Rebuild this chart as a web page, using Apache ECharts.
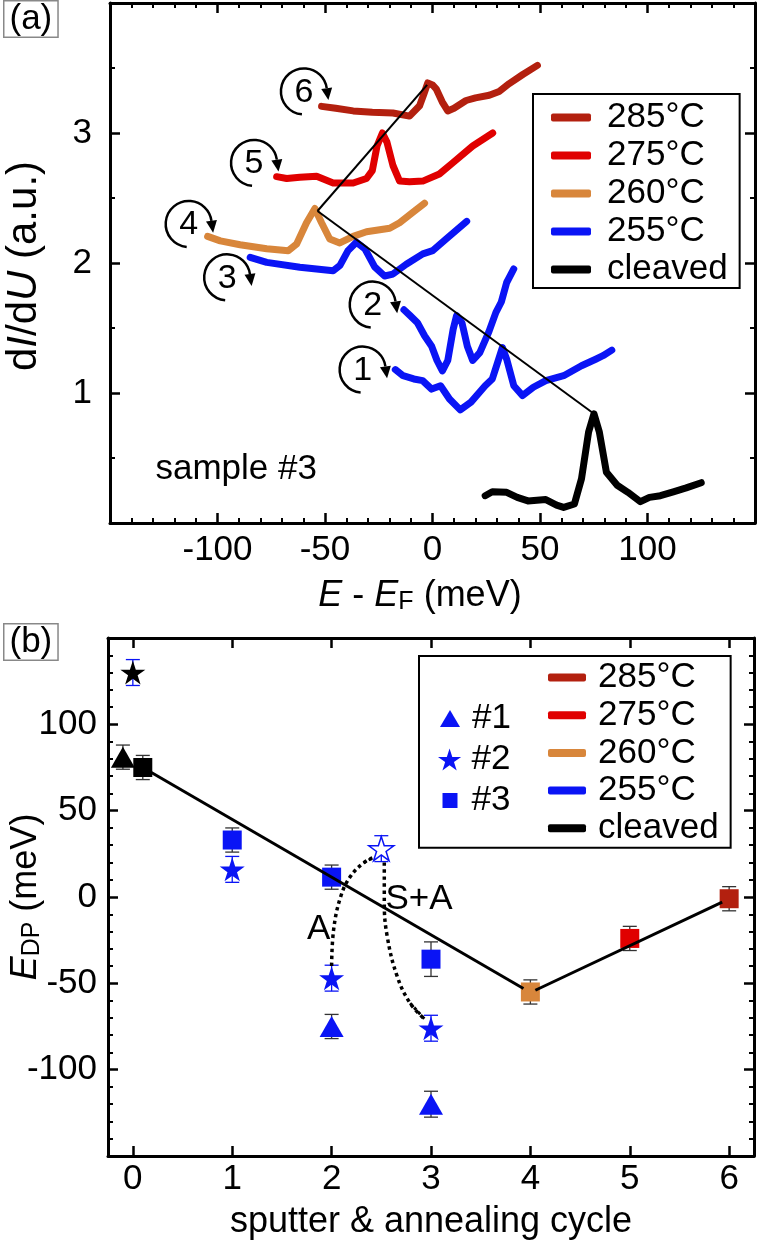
<!DOCTYPE html>
<html lang="en">
<head>
<meta charset="UTF-8">
<title>Dirac point shift with sputter and annealing</title>
<style>
  html, body { margin: 0; padding: 0; background: #fff; }
  #chart { width: 760px; height: 1246px; }
</style>
</head>
<body>
<div id="chart"></div>
<script src="https://cdn.jsdelivr.net/npm/echarts@6/dist/echarts.min.js"></script>
<script>
  // ---- panel (a): dI/dU spectra, energy in meV ----
  const c6E = [-51.6, -45, -36.9, -28, -18.4, -10.7, -6.0, -4, -2.2, 0, 1.7, 4.5, 7.1, 10, 15.6, 20, 26.4, 31, 35.7, 42, 48.8];
  const c6V = [3.205, 3.19, 3.17, 3.16, 3.154, 3.13, 3.21, 3.3, 3.385, 3.37, 3.34, 3.24, 3.17, 3.19, 3.25, 3.27, 3.29, 3.32, 3.38, 3.45, 3.52];
  const c5E = [-72.5, -67.8, -61.7, -53.9, -46.2, -36.9, -30.7, -28.0, -25.8, -23.3, -21.2, -18.4, -15.3, -10.7, -4.5, 3.2, 9.4, 18.7, 28.0];
  const c5V = [2.664, 2.65, 2.66, 2.667, 2.615, 2.615, 2.65, 2.71, 2.90, 3.0, 2.93, 2.75, 2.63, 2.625, 2.63, 2.685, 2.77, 2.90, 3.0];
  const c4E = [-104.6, -98.7, -89.5, -77.1, -67.1, -63.2, -58.6, -54.7, -51.6, -47.8, -43.1, -36.9, -30.7, -19.9, -15.3, -9.1, -3.7];
  const c4V = [2.205, 2.17, 2.14, 2.11, 2.095, 2.146, 2.31, 2.42, 2.31, 2.185, 2.154, 2.205, 2.24, 2.267, 2.31, 2.39, 2.46];
  const c3E = [-84.8, -77.1, -61.7, -46.2, -43.1, -39.3, -35.4, -31.5, -26.9, -22.3, -18.4, -12.2, -4.5, 0.1, 6.4, 15.9];
  const c3V = [2.044, 2.005, 1.967, 1.94, 1.98, 2.095, 2.16, 2.11, 1.97, 1.90, 1.915, 1.99, 2.07, 2.095, 2.185, 2.32];
  const c2E = [-13.3, -10.4, -7.0, -3.7, -0.4, 2.1, 4.6, 7.1, 9.6, 11.2, 13.7, 16.2, 18.7, 22.0, 26.2, 29.5, 32.0, 34.5, 37.8];
  const c2V = [1.64, 1.595, 1.54, 1.44, 1.36, 1.25, 1.17, 1.25, 1.49, 1.595, 1.54, 1.36, 1.25, 1.31, 1.47, 1.62, 1.70, 1.85, 1.954];
  const c1E = [-17.3, -13.7, -8.7, -4.6, -0.4, 3.75, 7.9, 12.9, 17.9, 24.5, 27.8, 30.3, 32.5, 34.5, 37.8, 41.9, 46.9, 52.7, 61.0, 69.3, 75.9, 79.3, 83.4];
  const c1V = [1.18, 1.133, 1.108, 1.095, 1.03, 1.056, 0.954, 0.87, 0.93, 1.056, 1.108, 1.236, 1.35, 1.26, 1.056, 0.98, 1.044, 1.095, 1.133, 1.21, 1.26, 1.287, 1.33];
  const c0E = [24.5, 27.8, 34.5, 39.4, 44.4, 52.7, 57.7, 61.0, 66.0, 69.3, 72.6, 75.1, 77.6, 80.9, 85.9, 90.9, 96.7, 100.9, 106, 112, 118, 125];
  const c0V = [0.21, 0.24, 0.236, 0.197, 0.17, 0.18, 0.138, 0.12, 0.146, 0.34, 0.70, 0.84, 0.70, 0.39, 0.29, 0.236, 0.164, 0.197, 0.21, 0.24, 0.27, 0.31];

  // Dirac point positions joined by arrows
  const dpE = [75.1, -53.5, -2.5];
  const dpV = [0.84, 2.40, 3.37];

  // circled cycle numbers
  const cycN = [1, 2, 3, 4, 5, 6];
  const cycE = [-32.5, -27.8, -95.5, -113.4, -83.0, -59.8];
  const cycV = [1.18, 1.68, 1.89, 2.30, 2.77, 3.32];

  // ---- panel (b): E_DP vs cycle ----
  const s1X = [-0.1, 2, 3];
  const s1Y = [81, -75, -120];
  const s1Err = [7, 7, 7.5];
  const s1T = ['cleaved', '255', '255'];
  const s2X = [0, 1, 2, 3];
  const s2Y = [130, 16, -47, -76];
  const s2Err = [7.5, 7.5, 7.5, 7.5];
  const s2T = ['cleaved', '255', '255', '255'];
  const s2OpenX = [2.5];
  const s2OpenY = [28];
  const s2OpenErr = [7.5];
  const s3X = [0.1, 1, 2, 3, 4, 5, 6];
  const s3Y = [75, 33, 11.5, -36, -55, -24, -1];
  const s3Err = [7, 7, 7, 10, 7, 7, 7];
  const s3T = ['cleaved', '255', '255', '255', '260', '275', '285'];

  const trendX = [0.1, 3.93, 4.05, 5.93];
  const trendY = [75, -53, -54, -3];
  const annX = [2.0, 2.02, 2.09, 2.19, 2.32, 2.41];
  const annY = [-40, -19, 0, 12, 19.7, 22.6];
  const spaX = [2.53, 2.53, 2.56, 2.66, 2.79, 2.94];
  const spaY = [20, -3.5, -23, -46, -61.5, -71];

  const xTicksB = [0, 1, 2, 3, 4, 5, 6];

  const col = {
    '285': '#b3200f',
    '275': '#e00000',
    '260': '#d8863b',
    '255': '#0a14f5',
    'cleaved': '#000000'
  };
  const FONT = '"Liberation Sans", Arial, sans-serif';
  const FS = 35;
  const STAR = 'path://M50,0 L61.23,34.55 L97.55,34.55 L68.16,55.9 L79.39,90.45 L50,69.1 L20.61,90.45 L31.84,55.9 L2.45,34.55 L38.77,34.55 Z';

  const zip = (a, b) => a.map((v, i) => [v, b[i]]);

  function spectrum(name, E, V, color) {
    return {
      name: name, type: 'line', xAxisIndex: 0, yAxisIndex: 0,
      data: zip(E, V), showSymbol: false, symbol: 'none', silent: true,
      color: color,
      lineStyle: { width: 7, color: color, cap: 'round', join: 'round' }
    };
  }

  function renderCycle(params, api) {
    const p = api.coord([api.value(0), api.value(1)]);
    const r = 23;
    const a1 = 95 * Math.PI / 180, a2 = 352 * Math.PI / 180;
    const ex = p[0] + r * Math.cos(a2), ey = p[1] + r * Math.sin(a2);
    const tx = -Math.sin(a2), ty = Math.cos(a2);
    const nx = -ty, ny = tx;
    return {
      type: 'group',
      children: [
        { type: 'arc', shape: { cx: p[0], cy: p[1], r: r, startAngle: a1, endAngle: a2, clockwise: true },
          style: { stroke: '#000', lineWidth: 2.5, fill: null } },
        { type: 'polygon', shape: { points: [[ex + tx * 12, ey + ty * 12], [ex + nx * 5.5, ey + ny * 5.5], [ex - nx * 5.5, ey - ny * 5.5]] },
          style: { fill: '#000' } },
        { type: 'text', x: p[0], y: p[1] + 1,
          style: { text: String(api.value(2)), font: '34px ' + FONT, fill: '#000', align: 'center', verticalAlign: 'middle' } }
      ]
    };
  }

  function renderErr(params, api) {
    const x = api.value(0), y = api.value(1), e = api.value(2);
    const t = api.coord([x, y + e]), b = api.coord([x, y - e]);
    const w = 7;
    const st = { stroke: api.visual('color'), lineWidth: 1.3 };
    return {
      type: 'group',
      children: [
        { type: 'line', shape: { x1: t[0], y1: t[1], x2: b[0], y2: b[1] }, style: st },
        { type: 'line', shape: { x1: t[0] - w, y1: t[1], x2: t[0] + w, y2: t[1] }, style: st },
        { type: 'line', shape: { x1: b[0] - w, y1: b[1], x2: b[0] + w, y2: b[1] }, style: st }
      ]
    };
  }

  function pts(X, Y, T) {
    return X.map((x, i) => ({ value: [x, Y[i]], itemStyle: { color: col[T[i]] } }));
  }
  function errs(X, Y, E) {
    return X.map((x, i) => [x, Y[i], E[i]]);
  }

  const axLine = { show: true, onZero: false, lineStyle: { color: '#000', width: 3 } };
  const tick = { show: true, inside: true, length: 10, lineStyle: { color: '#000', width: 2.5 } };
  function xAx(grid, pos, extra) {
    return Object.assign({
      type: 'value', gridIndex: grid, position: pos,
      axisLine: axLine, axisTick: tick,
      splitLine: { show: false },
      axisLabel: { show: pos === 'bottom', color: '#000', fontSize: FS, fontFamily: FONT, margin: 10,
                   showMinLabel: false, showMaxLabel: false }
    }, extra);
  }
  function yAx(grid, pos, extra) {
    return Object.assign({
      type: 'value', gridIndex: grid, position: pos,
      axisLine: axLine, axisTick: tick,
      splitLine: { show: false },
      axisLabel: { show: pos === 'left', color: '#000', fontSize: FS, fontFamily: FONT, margin: 18,
                   showMinLabel: false, showMaxLabel: false }
    }, extra);
  }
  const minorE = { show: true, splitNumber: 5, length: 5, lineStyle: { color: '#000', width: 2 } };
  const minorV = { show: true, splitNumber: 2, length: 5, lineStyle: { color: '#000', width: 2 } };
  const tickB = Object.assign({}, tick, { customValues: xTicksB });

  const arrowMark = (from, to, extra) => Object.assign({
    silent: true, symbol: ['none', 'arrow'], symbolSize: [0, 14],
    label: { show: false },
    lineStyle: { color: '#000', width: 2, type: 'solid' },
    data: [[{ coord: from }, { coord: to }]]
  }, extra);

  const legText = (pad) => ({ fontSize: FS, color: '#000', padding: [0, 0, 0, pad] });

  const chart = echarts.init(document.getElementById('chart'));
  chart.setOption({
    animation: false,
    textStyle: { fontFamily: FONT },
    grid: [
      { left: 110, top: 3, width: 645, height: 520 },
      { left: 108, top: 638, width: 646, height: 518 }
    ],
    xAxis: [
      xAx(0, 'bottom', { min: -150, max: 150, interval: 50, minorTick: minorE }),
      xAx(0, 'top', { min: -150, max: 150, interval: 50, minorTick: minorE }),
      xAx(1, 'bottom', { min: -0.25, max: 6.25, axisTick: tickB,
        axisLabel: { show: true, color: '#000', fontSize: FS, fontFamily: FONT, margin: 6, customValues: xTicksB } }),
      xAx(1, 'top', { min: -0.25, max: 6.25, axisTick: tickB })
    ],
    yAxis: [
      yAx(0, 'left', { min: 0, max: 4, interval: 1, minorTick: minorV }),
      yAx(0, 'right', { min: 0, max: 4, interval: 1, minorTick: minorV }),
      yAx(1, 'left', { min: -150, max: 150, interval: 50, minorTick: minorE,
        axisLabel: { show: true, color: '#000', fontSize: FS, fontFamily: FONT, margin: 11, showMinLabel: false, showMaxLabel: false } }),
      yAx(1, 'right', { min: -150, max: 150, interval: 50, minorTick: minorE })
    ],
    legend: [
      {
        left: 533, top: 94, orient: 'vertical', itemWidth: 40, itemHeight: 8, itemGap: 3,
        padding: [6, 12, 1, 18], borderColor: '#000', borderWidth: 2, backgroundColor: '#fff',
        selectedMode: false, icon: 'roundRect', textStyle: legText(11),
        data: ['285°C', '275°C', '260°C', '255°C', 'cleaved']
      },
      {
        left: 419, top: 656, orient: 'vertical', itemWidth: 38, itemHeight: 8, itemGap: 2.7,
        padding: [4, 12, 2, 129], borderColor: '#000', borderWidth: 2,
        selectedMode: false, icon: 'roundRect', textStyle: legText(7),
        data: ['285°C', '275°C', '260°C', '255°C', 'cleaved']
      },
      {
        left: 440, top: 701, orient: 'vertical', itemWidth: 20, itemHeight: 17, padding: 0,
        selectedMode: false, textStyle: legText(7),
        data: [{ name: '#1', icon: 'triangle' }]
      },
      {
        left: 438, top: 742, orient: 'vertical', itemWidth: 24, itemHeight: 22, padding: 0,
        selectedMode: false, textStyle: legText(5),
        data: [{ name: '#2', icon: STAR }]
      },
      {
        left: 442.5, top: 783, orient: 'vertical', itemWidth: 15, itemHeight: 15, padding: 0,
        selectedMode: false, textStyle: legText(9),
        data: [{ name: '#3', icon: 'rect' }]
      }
    ],
    graphic: [
      { type: 'text', left: 3, top: 0, z: 100,
        style: { text: '(a)', font: FS + 'px ' + FONT, fill: '#000', backgroundColor: '#fff',
                 borderColor: '#888', borderWidth: 1.5, padding: [0, 5, 0, 5] } },
      { type: 'text', left: 3, top: 623, z: 100,
        style: { text: '(b)', font: FS + 'px ' + FONT, fill: '#000', backgroundColor: '#fff',
                 borderColor: '#888', borderWidth: 1.5, padding: [0, 5, 0, 5] } },
      { type: 'text', x: 24, y: 266, rotation: Math.PI / 2,
        style: { text: '{n|d}{i|I}{n|/d}{i|U}{n| (a.u.)}', align: 'center', verticalAlign: 'middle',
                 rich: { n: { font: '42px ' + FONT, fill: '#000' }, i: { font: 'italic 42px ' + FONT, fill: '#000' } } } },
      { type: 'text', x: 420, y: 596,
        style: { text: '{i|E}{n| - }{i|E}{s|F}{n| (meV)}', align: 'center', verticalAlign: 'middle',
                 rich: { n: { font: '36px ' + FONT, fill: '#000', lineHeight: 38 },
                         i: { font: 'italic 36px ' + FONT, fill: '#000', lineHeight: 38 },
                         s: { font: '25px ' + FONT, fill: '#000', lineHeight: 16, verticalAlign: 'bottom' } } } },
      { type: 'text', x: 26, y: 897, rotation: Math.PI / 2,
        style: { text: '{i|E}{s|DP}{n| (meV)}', align: 'center', verticalAlign: 'middle',
                 rich: { n: { font: '36px ' + FONT, fill: '#000', lineHeight: 38 },
                         i: { font: 'italic 36px ' + FONT, fill: '#000', lineHeight: 38 },
                         s: { font: '25px ' + FONT, fill: '#000', lineHeight: 16, verticalAlign: 'bottom' } } } },
      { type: 'text', x: 431, y: 1222,
        style: { text: 'sputter & annealing cycle', font: '36px ' + FONT, fill: '#000', align: 'center', verticalAlign: 'middle' } }
    ],
    series: [
      spectrum('285°C', c6E, c6V, col['285']),
      spectrum('275°C', c5E, c5V, col['275']),
      spectrum('260°C', c4E, c4V, col['260']),
      spectrum('255°C', c3E, c3V, col['255']),
      spectrum('255°C', c2E, c2V, col['255']),
      spectrum('255°C', c1E, c1V, col['255']),
      Object.assign(spectrum('cleaved', c0E, c0V, col['cleaved']), {
        markLine: {
          silent: true, symbol: ['none', 'arrow'], symbolSize: [0, 14], label: { show: false },
          lineStyle: { color: '#000', width: 2, type: 'solid' },
          data: [
            [{ coord: [dpE[0], dpV[0]] }, { coord: [dpE[1], dpV[1]] }],
            [{ coord: [dpE[1], dpV[1]] }, { coord: [dpE[2], dpV[2]] }]
          ]
        }
      }),
      {
        name: 'cycles', type: 'custom', xAxisIndex: 0, yAxisIndex: 0, silent: true, z: 5,
        renderItem: renderCycle,
        data: cycE.map((e, i) => [e, cycV[i], cycN[i]])
      },
      {
        name: 'note-a', type: 'scatter', xAxisIndex: 0, yAxisIndex: 0, symbolSize: 0, silent: true,
        itemStyle: { opacity: 1 },
        label: { show: true, position: 'inside', formatter: '{b}', fontSize: FS, color: '#000' },
        data: [{ name: 'sample #3', value: [-91.3, 0.415] }]
      },
      // panel (b)
      {
        name: 'err-dark', type: 'custom', xAxisIndex: 2, yAxisIndex: 2, silent: true, z: 1,
        itemStyle: { color: '#333' }, renderItem: renderErr,
        data: errs(s1X, s1Y, s1Err).concat(errs(s3X, s3Y, s3Err))
      },
      {
        name: 'err-blue', type: 'custom', xAxisIndex: 2, yAxisIndex: 2, silent: true, z: 1,
        itemStyle: { color: col['255'] }, renderItem: renderErr,
        data: errs(s2X, s2Y, s2Err).concat(errs(s2OpenX, s2OpenY, s2OpenErr))
      },
      {
        name: 'path-anneal', type: 'line', xAxisIndex: 2, yAxisIndex: 2, silent: true, smooth: 0.4,
        showSymbol: false, symbol: 'none', color: '#000',
        lineStyle: { color: '#000', width: 3.5, type: 'dotted' },
        data: zip(annX, annY),
        markLine: arrowMark([annX[4], annY[4]], [annX[5], annY[5]], { lineStyle: { color: '#000', width: 3, type: 'dotted' } })
      },
      {
        name: 'path-sputter', type: 'line', xAxisIndex: 2, yAxisIndex: 2, silent: true, smooth: 0.4,
        showSymbol: false, symbol: 'none', color: '#000',
        lineStyle: { color: '#000', width: 3.5, type: 'dotted' },
        data: zip(spaX, spaY),
        markLine: arrowMark([spaX[4], spaY[4]], [spaX[5], spaY[5]], { lineStyle: { color: '#000', width: 3, type: 'dotted' } })
      },
      {
        name: '#1', type: 'scatter', xAxisIndex: 2, yAxisIndex: 2, symbol: 'triangle', symbolSize: [24, 21],
        itemStyle: { color: col['255'], opacity: 1 }, z: 4, data: pts(s1X, s1Y, s1T)
      },
      {
        name: '#2', type: 'scatter', xAxisIndex: 2, yAxisIndex: 2, symbol: STAR, symbolSize: [25, 24],
        itemStyle: { color: col['255'], opacity: 1 }, z: 4, data: pts(s2X, s2Y, s2T)
      },
      {
        name: 'open', type: 'scatter', xAxisIndex: 2, yAxisIndex: 2, symbol: STAR, symbolSize: [25, 24],
        itemStyle: { color: '#fff', borderColor: col['255'], borderWidth: 1.5, opacity: 1 }, z: 4,
        data: zip(s2OpenX, s2OpenY)
      },
      {
        name: '#3', type: 'scatter', xAxisIndex: 2, yAxisIndex: 2, symbol: 'rect', symbolSize: 19,
        itemStyle: { color: col['255'], opacity: 1 }, z: 4, data: pts(s3X, s3Y, s3T),
        markLine: {
          silent: true, symbol: ['none', 'arrow'], symbolSize: [0, 15], label: { show: false },
          lineStyle: { color: '#000', width: 3, type: 'solid' },
          data: [
            [{ coord: [trendX[0], trendY[0]] }, { coord: [trendX[1], trendY[1]] }],
            [{ coord: [trendX[2], trendY[2]] }, { coord: [trendX[3], trendY[3]] }]
          ]
        }
      },
      {
        name: 'note-b', type: 'scatter', xAxisIndex: 2, yAxisIndex: 2, symbolSize: 0, silent: true,
        itemStyle: { opacity: 1 },
        label: { show: true, position: 'inside', formatter: '{b}', fontSize: FS, color: '#000' },
        data: [{ name: 'A', value: [1.87, -19] }, { name: 'S+A', value: [2.88, -1.6] }]
      }
    ]
  });
</script>
</body>
</html>
